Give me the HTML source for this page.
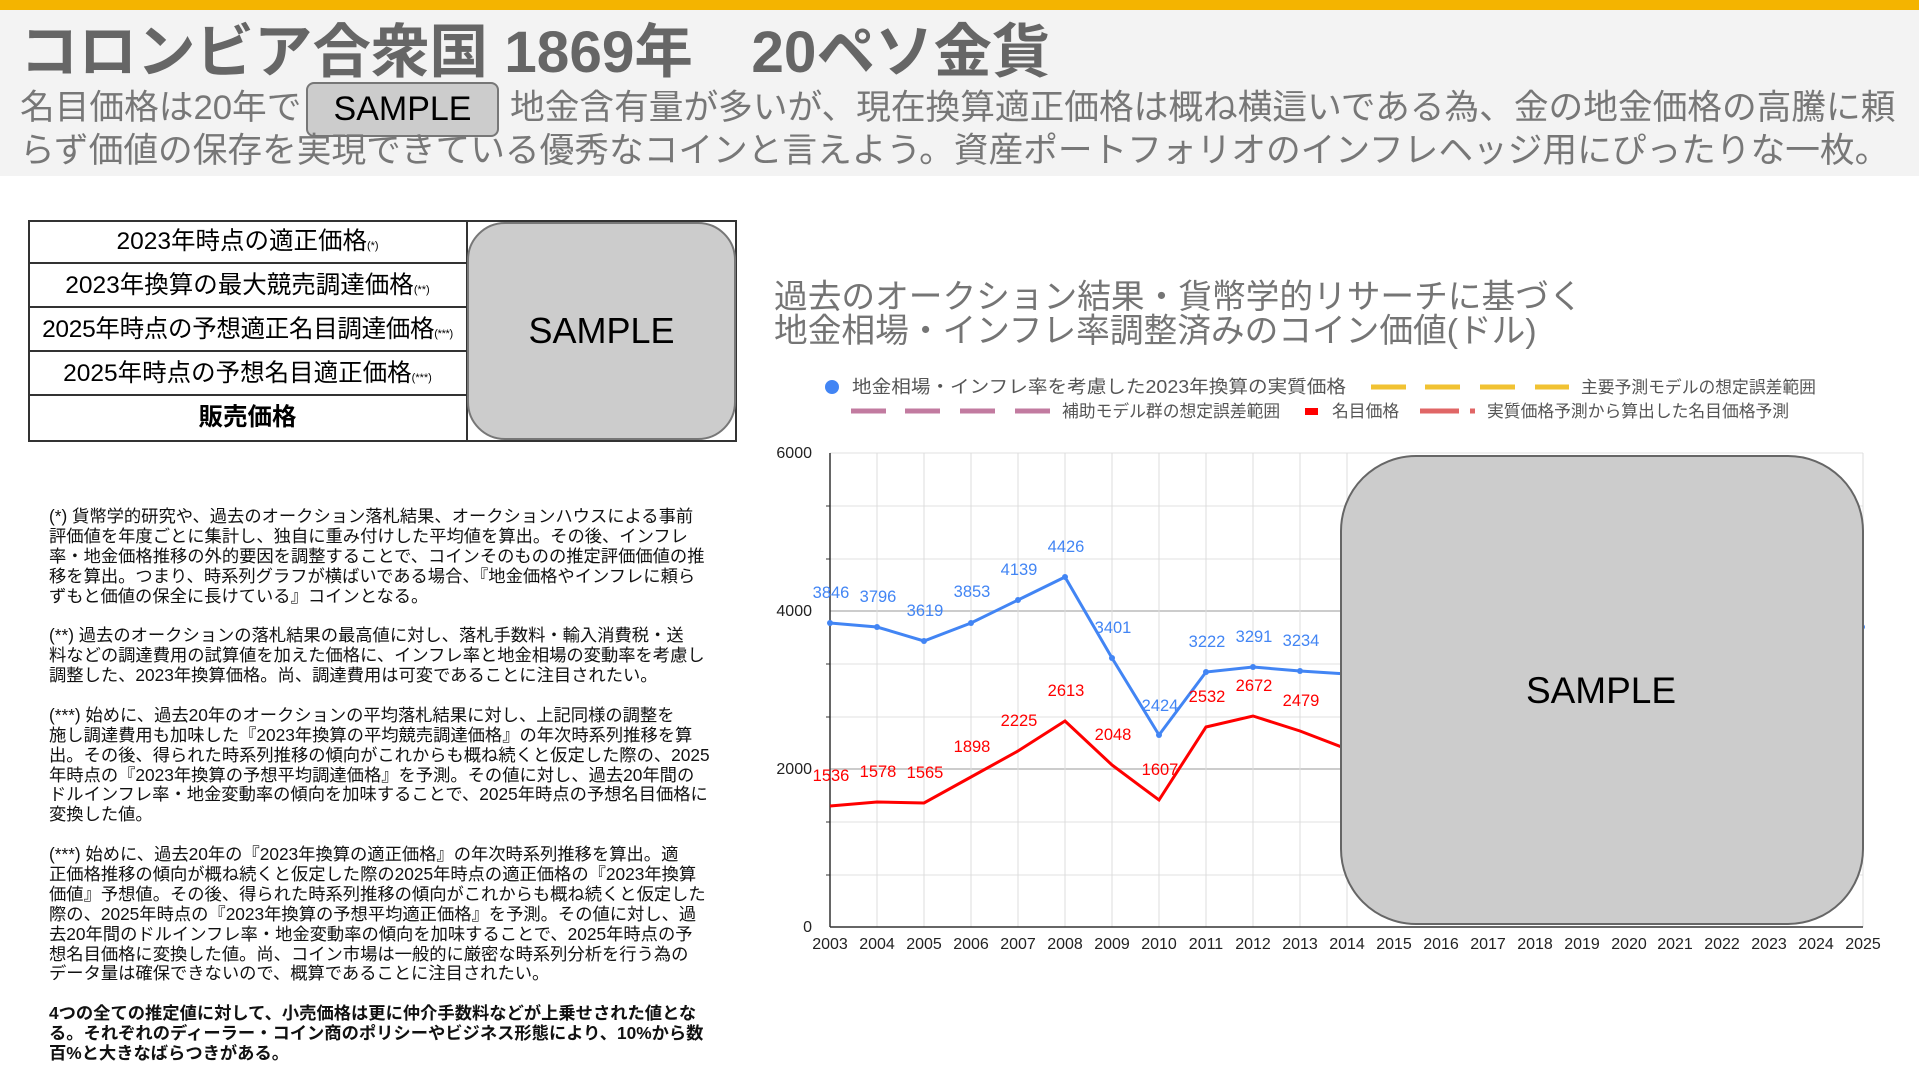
<!DOCTYPE html>
<html><head><meta charset="utf-8"><style>
*{margin:0;padding:0;box-sizing:border-box}
body{width:1919px;height:1084px;background:#fff;position:relative;overflow:hidden;font-family:"Liberation Sans","Noto Sans CJK JP",sans-serif}
.a{position:absolute;white-space:nowrap}
.notes div{white-space:nowrap;height:19.9px;line-height:19.9px}
</style></head><body>
<div class="a" style="left:0;top:0;width:1919px;height:10px;background:#f4b400"></div>
<div class="a" style="left:0;top:10px;width:1919px;height:166px;background:#f3f3f3"></div>
<div class="a" style="left:20px;top:19px;font-size:58.5px;font-weight:bold;color:#666;line-height:68px">コロンビア合衆国 1869年　20ペソ金貨</div>
<div class="a" style="left:20px;top:87px;font-size:34.7px;color:#777;line-height:42px">名目価格は20年で</div>
<div class="a" style="left:306px;top:82px;width:193px;height:55px;background:#ccc;border:2px solid #777;border-radius:8px;font-size:34px;color:#000;text-align:center;line-height:51px">SAMPLE</div>
<div class="a" style="left:510px;top:87px;font-size:34.7px;color:#777;line-height:42px">地金含有量が多いが、現在換算適正価格は概ね横這いである為、金の地金価格の高騰に頼</div>
<div class="a" style="left:20px;top:130px;font-size:34.7px;color:#777;line-height:42px">らず価値の保存を実現できている優秀なコインと言えよう。資産ポートフォリオのインフレヘッジ用にぴったりな一枚。</div>

<div class="a" style="left:28px;top:220px;width:709px;height:222px;border:2px solid #333"></div>
<div class="a" style="left:28px;top:220px;width:439px;font-size:24.5px;color:#000;text-align:center">
<div style="height:44px;line-height:44px;border-bottom:2px solid #333">2023年時点の適正価格<span style="font-size:11px">(*)</span></div>
<div style="height:44px;line-height:44px;border-bottom:2px solid #333">2023年換算の最大競売調達価格<span style="font-size:11px">(**)</span></div>
<div style="height:44px;line-height:44px;border-bottom:2px solid #333;letter-spacing:-0.3px">2025年時点の予想適正名目調達価格<span style="font-size:11px">(***)</span></div>
<div style="height:44px;line-height:44px;border-bottom:2px solid #333">2025年時点の予想名目適正価格<span style="font-size:11px">(***)</span></div>
<div style="height:44px;line-height:44px;font-weight:bold">販売価格</div>
</div>
<div class="a" style="left:466px;top:220px;width:2px;height:222px;background:#333"></div>
<div class="a" style="left:467px;top:222px;width:269px;height:218px;background:#ccc;border:2px solid #777;border-radius:38px;font-size:36px;text-align:center;line-height:214px;color:#000">SAMPLE</div>

<div class="a notes" style="left:49px;top:507px;font-size:17.3px;color:#111">
<div>(*) 貨幣学的研究や、過去のオークション落札結果、オークションハウスによる事前</div>
<div>評価値を年度ごとに集計し、独自に重み付けした平均値を算出。その後、インフレ</div>
<div>率・地金価格推移の外的要因を調整することで、コインそのものの推定評価価値の推</div>
<div>移を算出。つまり、時系列グラフが横ばいである場合、『地金価格やインフレに頼ら</div>
<div>ずもと価値の保全に長けている』コインとなる。</div>
<div></div>
<div>(**) 過去のオークションの落札結果の最高値に対し、落札手数料・輸入消費税・送</div>
<div>料などの調達費用の試算値を加えた価格に、インフレ率と地金相場の変動率を考慮し</div>
<div>調整した、2023年換算価格。尚、調達費用は可変であることに注目されたい。</div>
<div></div>
<div>(***) 始めに、過去20年のオークションの平均落札結果に対し、上記同様の調整を</div>
<div>施し調達費用も加味した『2023年換算の平均競売調達価格』の年次時系列推移を算</div>
<div>出。その後、得られた時系列推移の傾向がこれからも概ね続くと仮定した際の、2025</div>
<div>年時点の『2023年換算の予想平均調達価格』を予測。その値に対し、過去20年間の</div>
<div>ドルインフレ率・地金変動率の傾向を加味することで、2025年時点の予想名目価格に</div>
<div>変換した値。</div>
<div></div>
<div>(***) 始めに、過去20年の『2023年換算の適正価格』の年次時系列推移を算出。適</div>
<div>正価格推移の傾向が概ね続くと仮定した際の2025年時点の適正価格の『2023年換算</div>
<div>価値』予想値。その後、得られた時系列推移の傾向がこれからも概ね続くと仮定した</div>
<div>際の、2025年時点の『2023年換算の予想平均適正価格』を予測。その値に対し、過</div>
<div>去20年間のドルインフレ率・地金変動率の傾向を加味することで、2025年時点の予</div>
<div>想名目価格に変換した値。尚、コイン市場は一般的に厳密な時系列分析を行う為の</div>
<div>データ量は確保できないので、概算であることに注目されたい。</div>
<div></div>
<div style="font-weight:bold">4つの全ての推定値に対して、小売価格は更に仲介手数料などが上乗せされた値とな</div>
<div style="font-weight:bold">る。それぞれのディーラー・コイン商のポリシーやビジネス形態により、10%から数</div>
<div style="font-weight:bold">百%と大きなばらつきがある。</div>
</div>

<div class="a" style="left:774px;top:280px;font-size:33.7px;color:#757575;line-height:34px">過去のオークション結果・貨幣学的リサーチに基づく<br>地金相場・インフレ率調整済みのコイン価値(ドル)</div>

<svg class="a" style="left:0;top:0" width="1919" height="1084" font-family="Liberation Sans, Noto Sans CJK JP, sans-serif">
<g font-size="16.8" fill="#555">
<circle cx="832" cy="387" r="7" fill="#4285f4"/>
<text x="852" y="393" font-size="18" textLength="494" lengthAdjust="spacingAndGlyphs">地金相場・インフレ率を考慮した2023年換算の実質価格</text>
<g stroke="#f1c232" stroke-width="5"><line x1="1371" y1="387" x2="1406" y2="387"/><line x1="1425" y1="387" x2="1460" y2="387"/><line x1="1480" y1="387" x2="1515" y2="387"/><line x1="1535" y1="387" x2="1569" y2="387"/></g>
<text x="1581" y="393">主要予測モデルの想定誤差範囲</text>
<g stroke="#c27ba0" stroke-width="5"><line x1="851" y1="411" x2="886" y2="411"/><line x1="905" y1="411" x2="940" y2="411"/><line x1="960" y1="411" x2="995" y2="411"/><line x1="1015" y1="411" x2="1050" y2="411"/></g>
<text x="1062" y="417">補助モデル群の想定誤差範囲</text>
<rect x="1305" y="408" width="13" height="7" fill="#f00"/>
<text x="1332" y="417">名目価格</text>
<line x1="1420" y1="411" x2="1459" y2="411" stroke="#e06666" stroke-width="5"/>
<line x1="1470" y1="411" x2="1475" y2="411" stroke="#e06666" stroke-width="5"/>
<text x="1487" y="417">実質価格予測から算出した名目価格予測</text>
</g>
<g stroke="#e0e0e0" stroke-width="1">
<line x1="830" y1="453" x2="1863" y2="453"/><line x1="830" y1="506" x2="1863" y2="506"/><line x1="830" y1="559" x2="1863" y2="559"/><line x1="830" y1="611" x2="1863" y2="611" stroke="#ccc" stroke-width="2"/><line x1="830" y1="664" x2="1863" y2="664"/><line x1="830" y1="717" x2="1863" y2="717"/><line x1="830" y1="769" x2="1863" y2="769" stroke="#ccc" stroke-width="2"/><line x1="830" y1="822" x2="1863" y2="822"/><line x1="830" y1="875" x2="1863" y2="875"/>
</g>
<g stroke="#ddd" stroke-width="1">
<line x1="877" y1="453" x2="877" y2="927"/><line x1="924" y1="453" x2="924" y2="927"/><line x1="971" y1="453" x2="971" y2="927"/><line x1="1018" y1="453" x2="1018" y2="927"/><line x1="1065" y1="453" x2="1065" y2="927"/><line x1="1112" y1="453" x2="1112" y2="927"/><line x1="1159" y1="453" x2="1159" y2="927"/><line x1="1206" y1="453" x2="1206" y2="927"/><line x1="1253" y1="453" x2="1253" y2="927"/><line x1="1300" y1="453" x2="1300" y2="927"/><line x1="1347" y1="453" x2="1347" y2="927"/><line x1="1863" y1="453" x2="1863" y2="927"/>
</g>
<line x1="830" y1="453" x2="830" y2="927" stroke="#333" stroke-width="1.5"/>
<line x1="830" y1="927" x2="1863" y2="927" stroke="#333" stroke-width="1.5"/>
<g stroke="#333"><line x1="826" y1="506" x2="830" y2="506"/><line x1="826" y1="559" x2="830" y2="559"/><line x1="826" y1="664" x2="830" y2="664"/><line x1="826" y1="717" x2="830" y2="717"/><line x1="826" y1="822" x2="830" y2="822"/><line x1="826" y1="875" x2="830" y2="875"/></g>
<g font-size="16" fill="#222" text-anchor="end">
<text x="812" y="458">6000</text><text x="812" y="616">4000</text><text x="812" y="774">2000</text><text x="812" y="932">0</text>
</g>
<g font-size="16" fill="#222" text-anchor="middle">
<text x="830" y="949">2003</text><text x="877" y="949">2004</text><text x="924" y="949">2005</text><text x="971" y="949">2006</text><text x="1018" y="949">2007</text><text x="1065" y="949">2008</text><text x="1112" y="949">2009</text><text x="1159" y="949">2010</text><text x="1206" y="949">2011</text><text x="1253" y="949">2012</text><text x="1300" y="949">2013</text><text x="1347" y="949">2014</text><text x="1394" y="949">2015</text><text x="1441" y="949">2016</text><text x="1488" y="949">2017</text><text x="1535" y="949">2018</text><text x="1582" y="949">2019</text><text x="1629" y="949">2020</text><text x="1675" y="949">2021</text><text x="1722" y="949">2022</text><text x="1769" y="949">2023</text><text x="1816" y="949">2024</text><text x="1863" y="949">2025</text>
</g>
<polyline fill="none" stroke="#4285f4" stroke-width="3" points="830,623 877,627 924,641 971,623 1018,600 1065,577 1112,658 1159,735 1206,672 1253,667 1300,671 1347,674 1400,676"/>
<polyline fill="none" stroke="#f00" stroke-width="3" points="830,806 877,802 924,803 971,777 1018,751 1065,721 1112,765 1159,800 1206,727 1253,716 1300,731 1347,749 1400,760"/>
<g fill="#4285f4"><circle cx="830" cy="623" r="3"/><circle cx="877" cy="627" r="3"/><circle cx="924" cy="641" r="3"/><circle cx="971" cy="623" r="3"/><circle cx="1018" cy="600" r="3"/><circle cx="1065" cy="577" r="3"/><circle cx="1112" cy="658" r="3"/><circle cx="1159" cy="735" r="3"/><circle cx="1206" cy="672" r="3"/><circle cx="1253" cy="667" r="3"/><circle cx="1300" cy="671" r="3"/><circle cx="1862" cy="627" r="3"/></g>
<g font-size="16.5" fill="#4285f4" text-anchor="middle">
<text x="831" y="598">3846</text><text x="878" y="602">3796</text><text x="925" y="616">3619</text><text x="972" y="597">3853</text><text x="1019" y="575">4139</text><text x="1066" y="552">4426</text><text x="1113" y="633">3401</text><text x="1160" y="711">2424</text><text x="1207" y="647">3222</text><text x="1254" y="642">3291</text><text x="1301" y="646">3234</text><text x="1347" y="651">3</text>
</g>
<g font-size="16.5" fill="#f00" text-anchor="middle">
<text x="831" y="781">1536</text><text x="878" y="777">1578</text><text x="925" y="778">1565</text><text x="972" y="752">1898</text><text x="1019" y="726">2225</text><text x="1066" y="696">2613</text><text x="1113" y="740">2048</text><text x="1160" y="775">1607</text><text x="1207" y="702">2532</text><text x="1254" y="691">2672</text><text x="1301" y="706">2479</text><text x="1347" y="724">2</text>
</g>
<rect x="1341" y="456" width="522" height="468" rx="75" ry="75" fill="#ccc" stroke="#666" stroke-width="2"/>
<text x="1601" y="703" font-size="37" text-anchor="middle" fill="#000">SAMPLE</text>
</svg>
</body></html>
